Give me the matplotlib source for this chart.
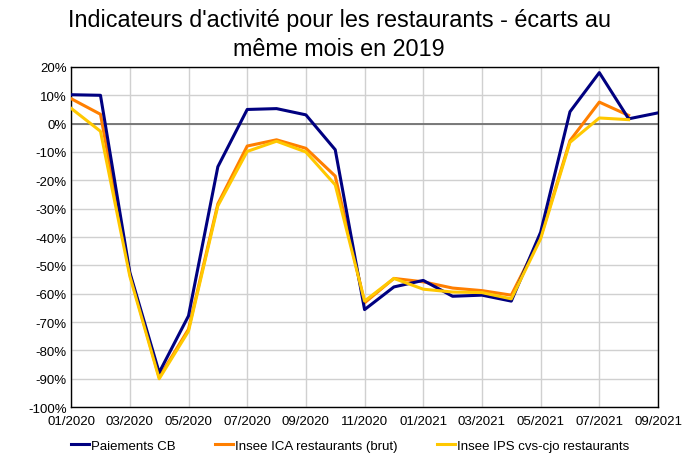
import numpy as np
import matplotlib
matplotlib.use("Agg")
from matplotlib import pyplot as plt
from matplotlib.ticker import FuncFormatter

plt.rcParams["font.family"] = ["Liberation Sans", "DejaVu Sans"]

months = ["01/2020", "02/2020", "03/2020", "04/2020", "05/2020", "06/2020",
          "07/2020", "08/2020", "09/2020", "10/2020", "11/2020", "12/2020",
          "01/2021", "02/2021", "03/2021", "04/2021", "05/2021", "06/2021",
          "07/2021", "08/2021", "09/2021"]

# écarts en % par rapport au même mois de 2019
paiements_cb = [10.2, 10.0, -52.5, -87.8, -67.8, -15.2, 5.0, 5.3, 3.1, -9.2,
                -65.6, -57.6, -55.3, -60.9, -60.5, -62.6, -38.3, 4.2, 18.0,
                1.7, 3.8]
ica_brut = [8.8, 3.3, -53.0, -89.5, -72.5, -28.3, -7.9, -5.7, -8.7, -18.5,
            -63.2, -54.6, -55.8, -58.0, -58.9, -60.5, -40.0, -6.0, 7.6, 2.9]
ips_cvs = [5.4, -2.7, -53.8, -90.0, -73.2, -29.0, -9.8, -6.2, -10.0, -21.6,
           -62.6, -54.6, -58.4, -59.4, -59.6, -61.8, -40.6, -6.6, 2.0, 1.4]

x = np.arange(len(months))

fig, ax = plt.subplots(figsize=(6.84, 4.56), dpi=100)
fig.subplots_adjust(left=0.104, right=0.962, top=0.851, bottom=0.105)

ax.plot(x, paiements_cb, color="#000080", lw=2.2, label="Paiements CB", zorder=4)
ax.plot(x[:len(ica_brut)], ica_brut, color="#FF7F00", lw=2.2,
        label="Insee ICA restaurants (brut)", zorder=3)
ax.plot(x[:len(ips_cvs)], ips_cvs, color="#FFC800", lw=2.2,
        label="Insee IPS cvs-cjo restaurants", zorder=5)

ax.axhline(0, color="#707070", lw=1.3, zorder=2)

ax.set_xlim(0, len(months) - 1)
ax.set_ylim(-100, 20)
ax.set_xticks(x[::2])
ax.set_xticklabels(months[::2])
ax.set_yticks(np.arange(-100, 21, 10))
ax.yaxis.set_major_formatter(FuncFormatter(lambda v, p: f"{v:.0f}%"))
ax.tick_params(axis="both", length=0, labelsize=9.5)
ax.tick_params(axis="x", pad=6)
ax.tick_params(axis="y", pad=3)
ax.grid(True, color="#d0d0d0", lw=1)
ax.set_axisbelow(True)
for s in ax.spines.values():
    s.set_color("black")
    s.set_linewidth(1)

fig.suptitle("Indicateurs d'activité pour les restaurants - écarts au\nmême mois en 2019",
             x=0.496, y=0.98, fontsize=16.8, linespacing=1.3)

ax.legend(loc="upper center", bbox_to_anchor=(0.475, -0.06), ncol=3, frameon=False,
          fontsize=9.5, handlelength=1.4, handletextpad=0.1, columnspacing=3.0)

fig.savefig("out.png", dpi=100)
